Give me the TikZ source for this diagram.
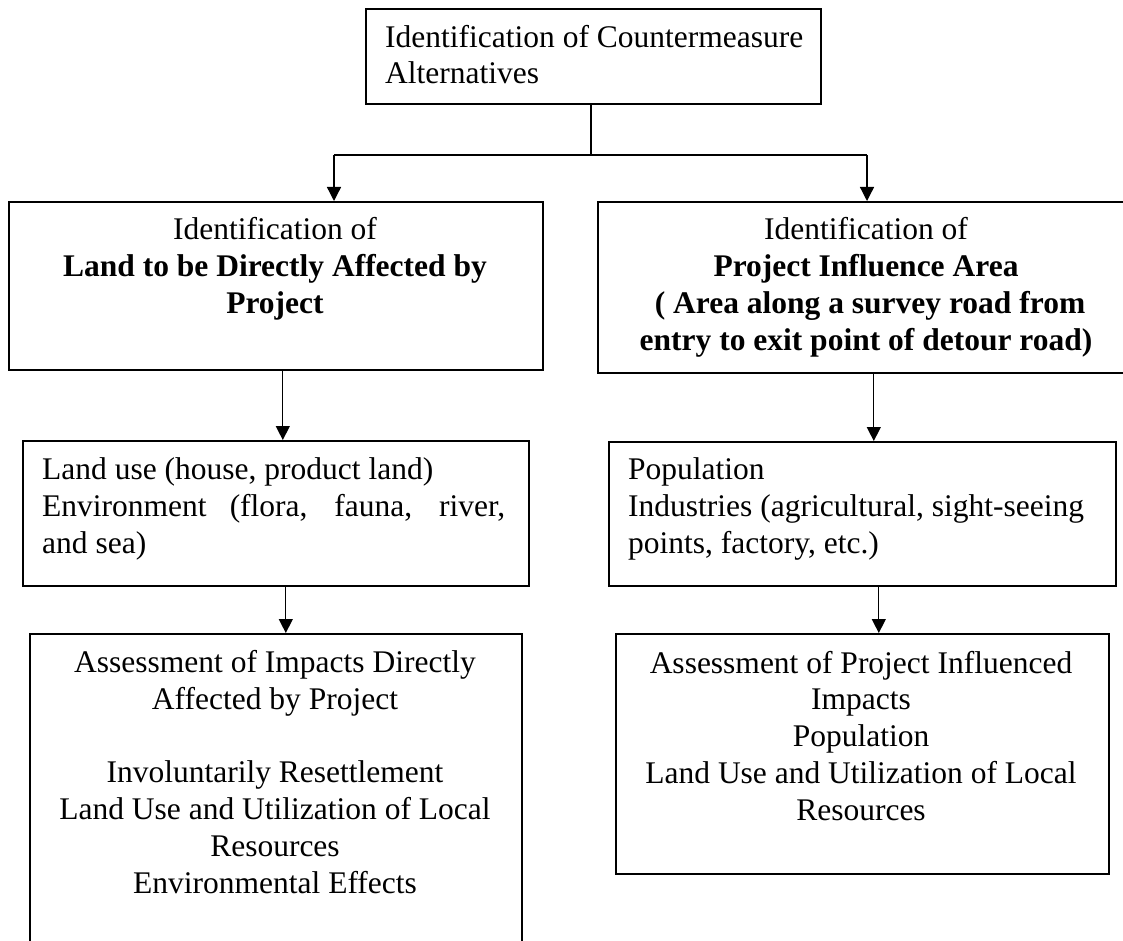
\documentclass[tikz,border=0pt]{standalone}
\usepackage{fontspec}
\setmainfont{Liberation Serif}
\usetikzlibrary{arrows.meta}

\tikzset{
  frame/.style={draw, line width=1.6pt, inner sep=0pt, anchor=north west},
  txt/.style={inner sep=0pt, font=\fontsize{31.5}{36.7}\selectfont},
  link/.style={line width=1.3pt},
  flow/.style={link, -{Triangle[length=14pt,width=14pt]}},
}

\begin{document}
\begin{tikzpicture}[x=1pt,y=-1pt]
\useasboundingbox (0,0) rectangle (1123,941);
\clip (0,0) rectangle (1123,941);

% frames
\node[frame, minimum width=455pt, minimum height=95pt]  (top) at (365,8) {};
\node[frame, minimum width=534pt, minimum height=168pt] (L2) at (8,201) {};
\node[frame, minimum width=540pt, minimum height=171pt] (R2) at (597,201) {};
\node[frame, minimum width=506pt, minimum height=145pt] (L3) at (22,440) {};
\node[frame, minimum width=507pt, minimum height=144pt] (R3) at (608,441) {};
\node[frame, minimum width=492pt, minimum height=340pt] (L4) at (29,633) {};
\node[frame, minimum width=493pt, minimum height=240pt] (R4) at (615,633) {};

% texts (each anchored at the baseline of its last line)
\node[txt, anchor=base west, align=left] (topT) at (385,84)
  {Identification of Countermeasure\\Alternatives};
\node[txt, anchor=base, align=center] (L2T) at (275,313)
  {Identification of\\\textbf{Land to be Directly Affected by}\\\textbf{Project}};
\node[txt, anchor=base, align=center] (R2T) at (866,350)
  {Identification of\\\textbf{Project Influence Area}\\\textbf{\hspace*{8pt}( Area along a survey road from}\\\textbf{entry to exit point of detour road)}};
\node[txt, anchor=base west, align=left] (L3T) at (42,553)
  {Land use (house, product land)\\\makebox[463pt][s]{Environment (flora, fauna, river,}\\and sea)};
\node[txt, anchor=base west, align=left] (R3T) at (628,553)
  {Population\\Industries (agricultural, sight-seeing\\points, factory, etc.)};
\node[txt, anchor=base, align=center] (L4T) at (275,893)
  {Assessment of Impacts Directly\\Affected by Project\\[36.7pt]Involuntarily Resettlement\\Land Use and Utilization of Local\\Resources\\Environmental Effects};
\node[txt, anchor=base, align=center] (R4T) at (861,820)
  {Assessment of Project Influenced\\Impacts\\Population\\Land Use and Utilization of Local\\Resources};

% connectors
\coordinate (split) at (591,155);
\coordinate (jL) at (334,155);
\coordinate (jR) at (867,155);
\draw[link] (top.south -| split) -- (split);
\draw[link] (jL) -- (jR);
\draw[flow] (jL) -- (jL |- L2.north);
\draw[flow] (jR) -- (jR |- R2.north);

\coordinate (l23) at ([xshift=7pt]L2.south);
\coordinate (r23) at ([xshift=6pt]R2.south);
\coordinate (l34) at ([xshift=10pt]L3.south);
\coordinate (r34) at ([xshift=16.5pt]R3.south);
\draw[flow] (l23) -- (l23 |- L3.north);
\draw[flow] (r23) -- (r23 |- R3.north);
\draw[flow] (l34) -- (l34 |- L4.north);
\draw[flow] (r34) -- (r34 |- R4.north);
\end{tikzpicture}
\end{document}
